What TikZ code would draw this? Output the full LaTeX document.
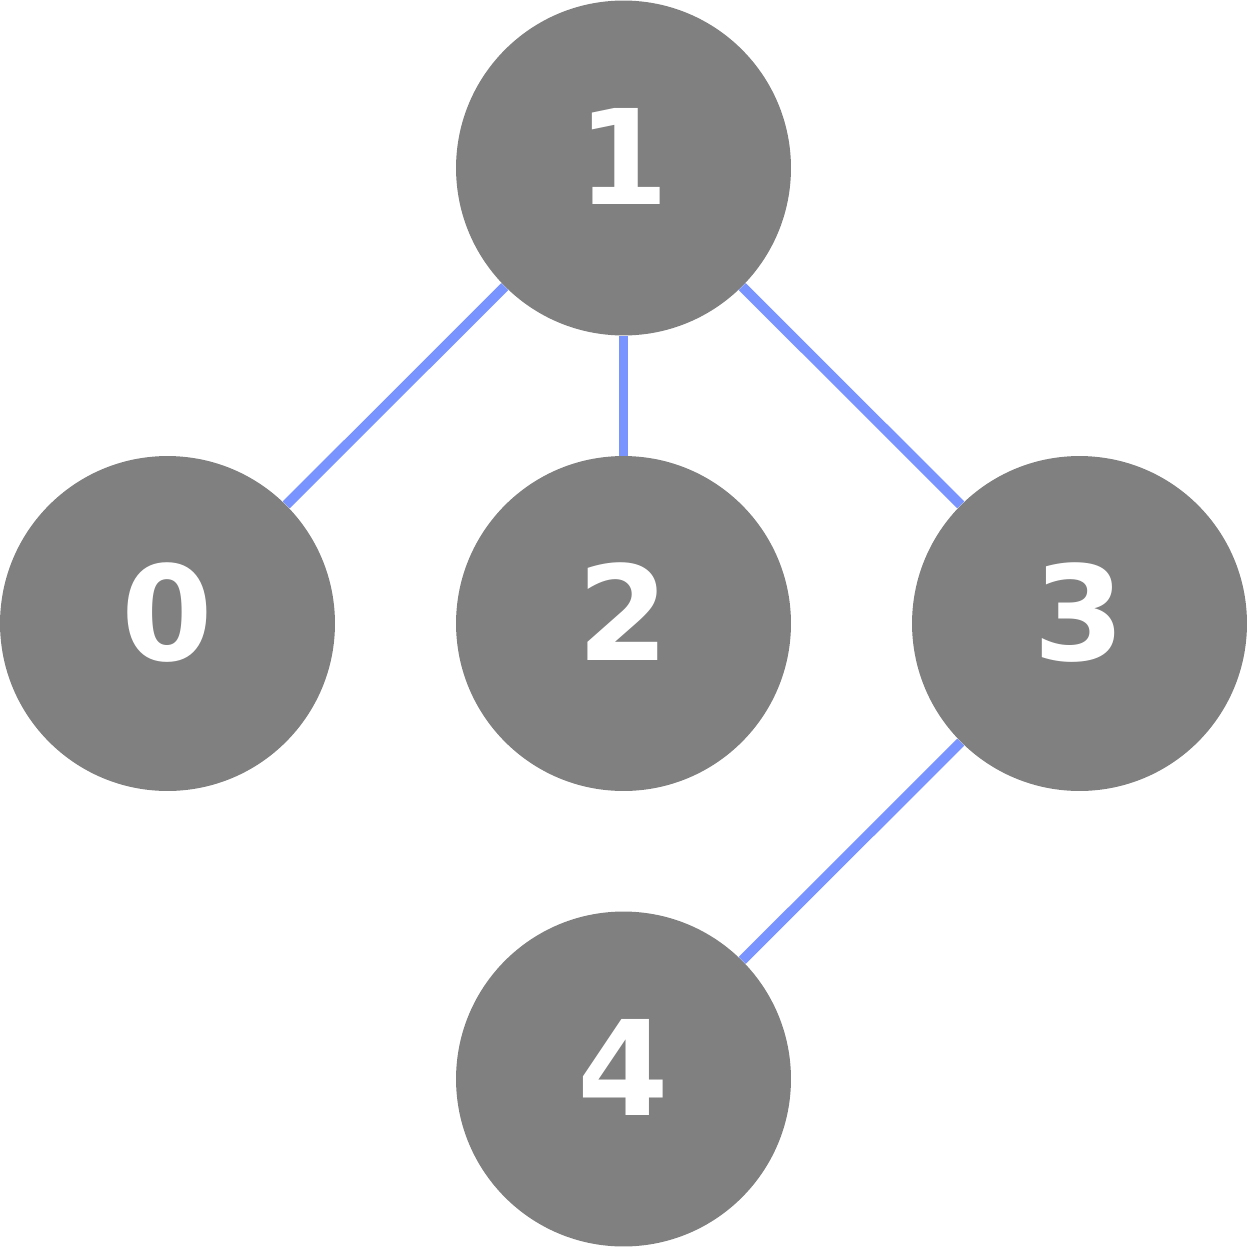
\documentclass[tikz,border=0pt]{standalone}
\usepackage{fontspec}
\setmainfont{DejaVu Sans}
\begin{document}
\begin{tikzpicture}[x=0.02cm,y=-0.02cm,
  vert/.style={circle,fill={rgb,255:red,128;green,128;blue,128},minimum size=6.7cm,inner sep=0pt,
    text=white,font=\fontsize{75}{80}\selectfont\bfseries},
  link/.style={draw={rgb,255:red,122;green,148;blue,255},line width=5.6pt}]
\useasboundingbox (0,0) rectangle (1247,1247);
\node[vert] (n1) at (623.5,168) {\raisebox{0.47cm}{1}};
\node[vert] (n0) at (167.5,623.5) {\raisebox{0.47cm}{0}};
\node[vert] (n2) at (623.5,623.5) {\raisebox{0.47cm}{2}};
\node[vert] (n3) at (1079.5,623.5) {\raisebox{0.47cm}{3}};
\node[vert] (n4) at (623.5,1079) {\raisebox{0.47cm}{4}};
\draw[link] (n1) -- (n0);
\draw[link] (n1) -- (n2);
\draw[link] (n1) -- (n3);
\draw[link] (n3) -- (n4);
\end{tikzpicture}
\end{document}
